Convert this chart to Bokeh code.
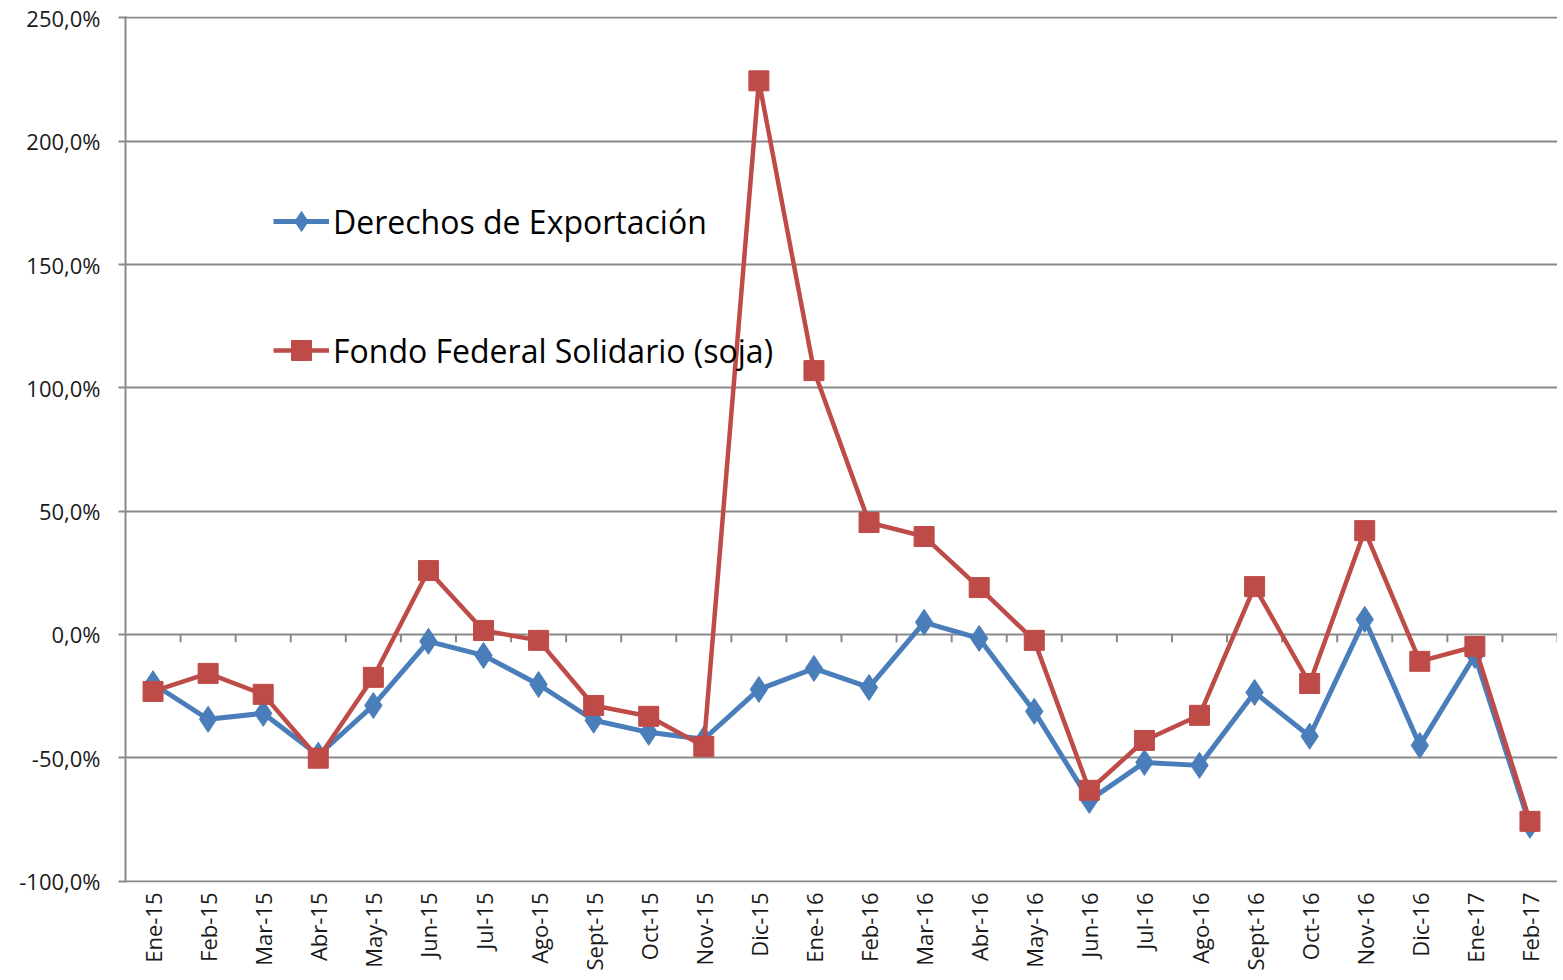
from bokeh.plotting import figure
from bokeh.models import FactorRange, Range1d, FixedTicker, Legend, LegendItem
from bokeh.embed import file_html
from bokeh.resources import INLINE
from math import pi

categories = ["Ene-15", "Feb-15", "Mar-15", "Abr-15", "May-15", "Jun-15", "Jul-15",
              "Ago-15", "Sept-15", "Oct-15", "Nov-15", "Dic-15", "Ene-16", "Feb-16",
              "Mar-16", "Abr-16", "May-16", "Jun-16", "Jul-16", "Ago-16", "Sept-16",
              "Oct-16", "Nov-16", "Dic-16", "Ene-17", "Feb-17"]

derechos = [-20.0, -34.4, -32.0, -49.0, -28.8, -2.8, -8.5, -20.3, -34.8, -39.7,
            -42.5, -22.3, -13.8, -21.5, 4.9, -1.6, -31.2, -67.3, -51.9, -53.1,
            -23.5, -41.3, 6.1, -45.0, -8.5, -77.4]

fondo = [-23.1, -15.8, -24.3, -50.2, -17.4, 25.9, 1.6, -2.4, -28.8, -33.2,
         -45.4, 224.5, 107.0, 45.4, 39.7, 19.0, -2.4, -63.2, -43.0, -32.8,
         19.4, -19.9, 42.1, -10.9, -4.9, -75.8]

y_ticks = [-100, -50, 0, 50, 100, 150, 200, 250]
y_tick_labels = ["-100,0%", "-50,0%", "0,0%", "50,0%", "100,0%", "150,0%", "200,0%", "250,0%"]

label_derechos = "Derechos de Exportación"
label_fondo = "Fondo Federal Solidario (soja)"

BLUE = "#4A7EBB"
RED = "#BE4B48"
GRID = "#898989"

p = figure(width=1557, height=973, output_backend="svg", toolbar_location=None,
           x_range=FactorRange(factors=categories), y_range=Range1d(-100.6, 250.6),
           min_border_left=125, min_border_right=0, min_border_top=16, min_border_bottom=0)

p.outline_line_color = None
p.background_fill_color = "white"

# grid
p.xgrid.grid_line_color = None
p.ygrid.ticker = FixedTicker(ticks=y_ticks)
p.ygrid.grid_line_color = GRID
p.ygrid.grid_line_width = 2

# y axis
p.yaxis.ticker = FixedTicker(ticks=y_ticks)
p.yaxis.major_label_overrides = {t: l for t, l in zip(y_ticks, y_tick_labels)}
p.yaxis.axis_line_color = GRID
p.yaxis.axis_line_width = 2
p.yaxis.major_tick_line_color = GRID
p.yaxis.major_tick_line_width = 2
p.yaxis.major_tick_out = 7
p.yaxis.major_tick_in = 0
p.yaxis.minor_tick_line_color = None
p.yaxis.major_label_standoff = 18
p.yaxis.major_label_text_font = "Open Sans"
p.yaxis.major_label_text_font_size = "22px"
p.yaxis.major_label_text_color = "#1a1a1a"

# x axis
p.xaxis.axis_line_color = None
p.xaxis.major_tick_line_color = None
p.xaxis.minor_tick_line_color = None
p.xaxis.major_tick_out = 0
p.xaxis.major_tick_in = 0
p.xaxis.major_label_orientation = pi / 2
p.xaxis.major_label_standoff = 10
p.xaxis.major_label_text_font = "Open Sans"
p.xaxis.major_label_text_font_size = "22px"
p.xaxis.major_label_text_color = "#1a1a1a"

# tick marks on the zero line at category boundaries
n = len(categories)
bx = [float(i) for i in range(1, n + 1)]
p.segment(x0=bx, y0=[0] * n, x1=bx, y1=[-3.2] * n, line_color=GRID, line_width=2)

# series
r1l = p.line(categories, derechos, line_color=BLUE, line_width=5)
r1m = p.scatter(categories, derechos, marker="diamond", size=26, fill_color=BLUE,
                line_color=BLUE)
r2l = p.line(categories, fondo, line_color=RED, line_width=4.5)
r2m = p.scatter(categories, fondo, marker="square", size=20, fill_color=RED,
                line_color=RED)

common = dict(border_line_color=None, background_fill_alpha=0, padding=0, margin=0,
              glyph_width=56, glyph_height=50, label_standoff=4,
              label_text_font="Open Sans", label_text_font_size="32px",
              label_text_color="#000000")

leg1 = Legend(items=[LegendItem(label=label_derechos, renderers=[r1l, r1m])],
              location=(148, 636), **common)
leg2 = Legend(items=[LegendItem(label=label_fondo, renderers=[r2l, r2m])],
              location=(148, 507), **common)
p.add_layout(leg1)
p.add_layout(leg2)

open("out.html", "w").write(file_html(p, INLINE))
